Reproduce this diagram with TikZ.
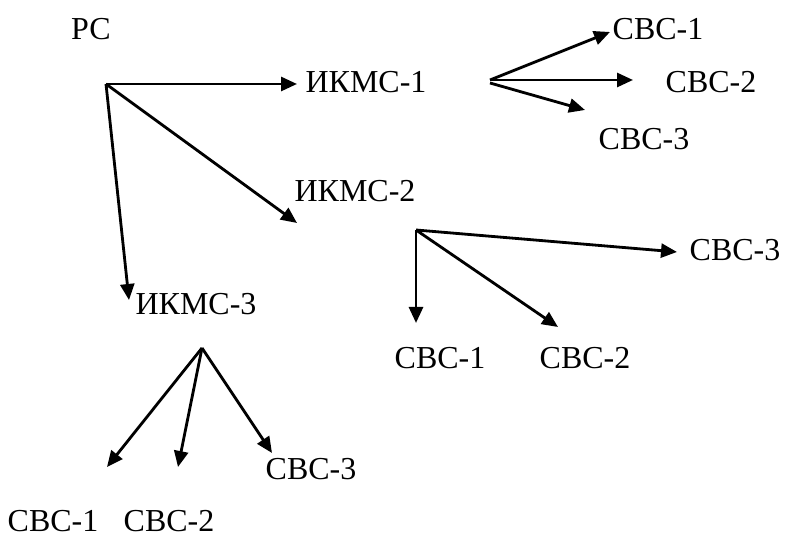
\documentclass[tikz,border=0pt]{standalone}
\usepackage{fontspec}
\setmainfont{Liberation Serif}
\newfontfamily\labelfont{Liberation Serif}
\usetikzlibrary{arrows.meta}
\begin{document}
\begin{tikzpicture}[
    lbl/.style={inner sep=0pt, font=\labelfont\fontsize{18.2}{20}\selectfont},
    link/.style={line width=1.6pt, -{Triangle[length=0.32cm, width=0.28cm]}}
]
\useasboundingbox (0,0) rectangle (15.74,10.72);

% Root
\node[lbl] (rs) at (1.82,10.14) {РС};
\coordinate (b0) at (2.12,9.04);

% First level
\node[lbl] (ikms1) at (7.32,9.08) {ИКМС-1};
\node[lbl] (ikms2) at (7.10,6.90) {ИКМС-2};
\node[lbl] (ikms3) at (3.92,4.64) {ИКМС-3};
\coordinate (t1) at (5.94,9.04);
\coordinate (t2) at (5.94,6.26);
\coordinate (t3) at (2.58,4.72);
\draw[link] (b0) -- (t1);
\draw[link] (b0) -- (t2);
\draw[link] (b0) -- (t3);

% Branch of ИКМС-1
\coordinate (b1) at (9.80,9.12);
\node[lbl] (svs11) at (13.16,10.14) {СВС-1};
\node[lbl] (svs12) at (14.22,9.08) {СВС-2};
\node[lbl] (svs13) at (12.88,7.94) {СВС-3};
\coordinate (t11) at (12.20,10.08);
\coordinate (t12) at (12.66,9.12);
\coordinate (t13) at (11.70,8.52);
\draw[link] (b1) -- (t11);
\draw[link] (b1) -- (t12);
\draw[link] ([yshift=-0.06cm]b1) -- (t13);

% Branch of ИКМС-2
\coordinate (b2) at (8.32,6.12);
\node[lbl] (svs21) at (8.80,3.56) {СВС-1};
\node[lbl] (svs22) at (11.70,3.56) {СВС-2};
\node[lbl] (svs23) at (14.70,5.72) {СВС-3};
\coordinate (t21) at (8.32,4.26);
\coordinate (t22) at (11.16,4.18);
\coordinate (t23) at (13.54,5.68);
\draw[link] (b2) -- (t21);
\draw[link] (b2) -- (t22);
\draw[link] (b2) -- (t23);

% Branch of ИКМС-3
\coordinate (b3) at (4.04,3.76);
\node[lbl] (svs31) at (1.06,0.30) {СВС-1};
\node[lbl] (svs32) at (3.38,0.30) {СВС-2};
\node[lbl] (svs33) at (6.22,1.34) {СВС-3};
\coordinate (t31) at (2.14,1.38);
\coordinate (t32) at (3.56,1.38);
\coordinate (t33) at (5.44,1.66);
\draw[link] (b3) -- (t31);
\draw[link] (b3) -- (t32);
\draw[link] (b3) -- (t33);

\end{tikzpicture}
\end{document}
